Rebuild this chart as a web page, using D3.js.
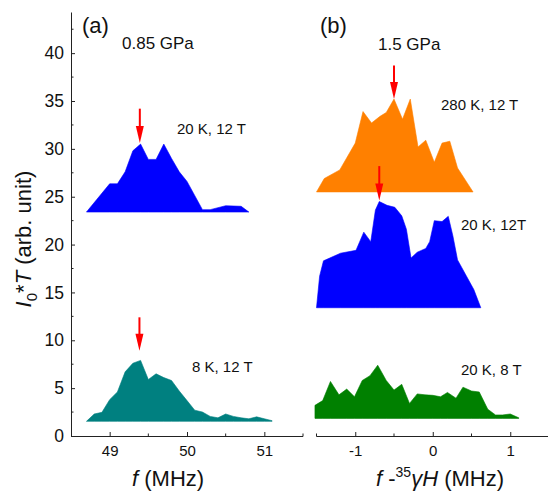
<!DOCTYPE html>
<html><head><meta charset="utf-8">
<script src="https://cdn.jsdelivr.net/npm/d3@7"></script>
<style>
html,body{margin:0;padding:0;background:#fff;}
svg{display:block;font-family:Arial,"Liberation Sans",sans-serif;}
</style></head><body>
<script>
// ---- data ----
const yTickValues = [0,5,10,15,20,25,30,35,40];
const xTicksLeft = [49,50,51];
const xTicksRight = [-1,0,1];

// panel (a): 20 K, 12 T
const a20x = [48.7,49.0,49.1,49.2,49.3,49.4,49.5,49.6,49.7,49.8,49.9,50.0,50.2,50.3,50.5,50.7,50.8];
const a20y = [23.4,26.35,26.35,27.6,29.8,30.5,28.9,28.9,30.5,29.0,27.6,26.6,23.65,23.65,24.06,24.0,23.4];
const a20base = 23.4;
// panel (a): 8 K, 12 T
const a8x = [48.7,48.8,48.9,49.0,49.1,49.2,49.3,49.4,49.5,49.6,49.7,49.8,49.9,50.0,50.1,50.2,50.3,50.4,50.5,50.6,50.7,50.8,50.9,51.0,51.1];
const a8y = [1.53,2.3,2.47,3.8,4.6,6.7,7.6,7.9,5.9,6.5,6.1,5.8,4.7,3.7,2.7,2.5,2.05,1.9,2.3,2.05,1.9,1.8,2.0,1.8,1.6];
const a8base = 1.53;
// panel (b): 280 K, 12 T
const b280x = [-1.5,-1.4,-1.2,-1.0,-0.9,-0.79,-0.68,-0.6,-0.5,-0.39,-0.29,-0.19,-0.09,0.02,0.12,0.22,0.32,0.52];
const b280y = [25.5,26.9,27.8,30.6,33.9,32.7,33.4,33.8,35.2,33.1,35.2,30.2,30.9,28.6,30.6,30.8,28.0,25.5];
const b280base = 25.5;
// panel (b): 20 K, 12 T
const b20x = [-1.5,-1.46,-1.41,-1.19,-0.99,-0.89,-0.8,-0.74,-0.69,-0.59,-0.49,-0.4,-0.34,-0.28,-0.2,-0.09,-0.04,0.02,0.12,0.2,0.26,0.32,0.53,0.62];
const b20y = [13.4,16.7,18.3,19.1,19.4,21.3,20.3,23.6,24.5,24.1,23.9,23.0,21.6,18.6,19.2,19.6,20.3,22.5,22.4,22.95,20.9,18.4,15.3,13.4];
const b20base = 13.4;
// panel (b): 20 K, 8 T
const b8x = [-1.52,-1.42,-1.32,-1.21,-1.11,-1.01,-0.91,-0.81,-0.71,-0.6,-0.5,-0.4,-0.3,-0.2,-0.1,0.0,0.1,0.19,0.3,0.39,0.5,0.6,0.71,0.81,0.9,1.0,1.11];
const b8y = [3.2,3.7,5.7,4.3,4.9,4.1,5.8,6.3,7.4,5.8,4.8,5.4,3.4,4.4,4.3,4.25,4.1,4.55,3.95,5.1,4.7,4.6,2.8,2.2,2.2,2.3,1.9];
const b8base = 1.84;

// arrows: x position, top value, tip value
const arrowsLeftX = [49.39, 49.385];
const arrowsLeftTop = [34.2, 12.4];
const arrowsLeftTip = [30.6, 8.9];
const arrowsRightX = [-0.5, -0.69];
const arrowsRightTop = [38.7, 28.2];
const arrowsRightTip = [35.2, 24.6];

// ---- drawing ----
const W = 548, H = 491;
const svg = d3.select("body").append("svg").attr("width", W).attr("height", H);

const y = d3.scaleLinear().domain([0, 44.3]).range([436, 12]);
const xL = d3.scaleLinear().domain([48.5, 51.5]).range([71, 303]);
const xR = d3.scaleLinear().domain([-1.5, 1.5]).range([316.5, 549]);
const axisColor = "#222";

function drawArea(xs, ys, base, xs_scale, color) {
  const pts = xs.map((v, i) => [v, ys[i]]);
  const area = d3.area().x(d => xs_scale(d[0])).y0(y(base)).y1(d => y(d[1]));
  svg.append("path").datum(pts).attr("d", area).attr("fill", color).attr("stroke", color).attr("stroke-width", 0.6);
}
drawArea(a20x, a20y, a20base, xL, "#0000ff");
drawArea(a8x, a8y, a8base, xL, "#008080");
drawArea(b280x, b280y, b280base, xR, "#ff8000");
drawArea(b20x, b20y, b20base, xR, "#0000ff");
drawArea(b8x, b8y, b8base, xR, "#008000");

// left y axis
const yAxis = d3.axisLeft(y).tickValues(yTickValues).tickSizeInner(-4).tickSizeOuter(0).tickPadding(7);
const gy = svg.append("g").attr("transform", "translate(71,0)").call(yAxis);
gy.select(".domain").attr("stroke", axisColor);
gy.selectAll(".tick line").attr("stroke", axisColor);
gy.selectAll(".tick text").attr("font-size", 17.5).attr("fill", "#111").attr("font-family", "Arial, 'Liberation Sans', sans-serif");
const yMinor = d3.range(2.5, 44, 5);
svg.append("g").selectAll("line").data(yMinor).join("line")
  .attr("x1", 71).attr("x2", 73.5).attr("y1", d => y(d)).attr("y2", d => y(d)).attr("stroke", axisColor);

function xAxisDraw(scale, majors, minors, x0, x1) {
  const ax = d3.axisBottom(scale).tickValues(majors).tickSizeInner(-4).tickSizeOuter(0).tickPadding(9)
    .tickFormat(d => String(d));
  const g = svg.append("g").attr("transform", "translate(0,436)").call(ax);
  g.select(".domain").remove();
  g.append("line").attr("x1", x0).attr("x2", x1).attr("y1", 0.5).attr("y2", 0.5).attr("stroke", axisColor);
  g.selectAll(".tick line").attr("stroke", axisColor);
  g.selectAll(".tick text").attr("font-size", 15).attr("fill", "#111").attr("font-family", "Arial, 'Liberation Sans', sans-serif");
  g.selectAll(".minor").data(minors).join("line").attr("class", "minor")
    .attr("x1", d => scale(d)).attr("x2", d => scale(d)).attr("y1", 0.5).attr("y2", -2.5).attr("stroke", axisColor);
}
xAxisDraw(xL, xTicksLeft, [49.5, 50.5, 51.5], 71, 303);
xAxisDraw(xR, xTicksRight, [-1.5, -0.5, 0.5, 1.5], 316.5, 548);

// arrows
function drawArrows(xs, tops, tips, scale) {
  xs.forEach((v, i) => {
    const px = scale(v), yt = y(tops[i]), yp = y(tips[i]);
    svg.append("line").attr("x1", px).attr("x2", px).attr("y1", yt).attr("y2", yp - 12)
      .attr("stroke", "#ff0000").attr("stroke-width", 2);
    svg.append("path").attr("d", `M${px-4},${yp-17} L${px+4},${yp-17} L${px},${yp} Z`).attr("fill", "#ff0000");
  });
}
drawArrows(arrowsLeftX, arrowsLeftTop, arrowsLeftTip, xL);
drawArrows(arrowsRightX, arrowsRightTop, arrowsRightTip, xR);

// texts
function txt(x, yy, s, size, anchor) {
  return svg.append("text").attr("x", x).attr("y", yy).attr("font-size", size)
    .attr("fill", "#111").attr("text-anchor", anchor || "start").text(s);
}
txt(82, 33, "(a)", 22);
txt(122, 49, "0.85 GPa", 17);
txt(320, 33, "(b)", 22);
txt(378, 50, "1.5 GPa", 17);
txt(177, 134, "20 K, 12 T", 15);
txt(192, 372, "8 K, 12 T", 15);
txt(441, 110, "280 K, 12 T", 15);
txt(461, 230, "20 K, 12T", 15);
txt(461, 375, "20 K, 8 T", 15);

// x labels
const xl1 = svg.append("text").attr("x", 132).attr("y", 486).attr("font-size", 22).attr("fill", "#111");
xl1.append("tspan").attr("font-style", "italic").text("f");
xl1.append("tspan").text(" (MHz)");

const xl2 = svg.append("text").attr("x", 376).attr("y", 486).attr("font-size", 22).attr("fill", "#111");
xl2.append("tspan").attr("font-style", "italic").text("f");
xl2.append("tspan").text(" -");
xl2.append("tspan").attr("font-size", 14).attr("dy", -9).text("35");
xl2.append("tspan").attr("font-style", "italic").attr("dy", 9).text("γH");
xl2.append("tspan").text(" (MHz)");

// y label
const yl = svg.append("text").attr("transform", "translate(31,239) rotate(-90)")
  .attr("text-anchor", "middle").attr("font-size", 22).attr("fill", "#111");
yl.append("tspan").attr("font-style", "italic").text("I");
yl.append("tspan").attr("font-size", 15).attr("dy", 6).text("0");
yl.append("tspan").attr("dy", -6).text("*");
yl.append("tspan").attr("font-style", "italic").text("T");
yl.append("tspan").text(" (arb. unit)");
</script>
</body></html>
